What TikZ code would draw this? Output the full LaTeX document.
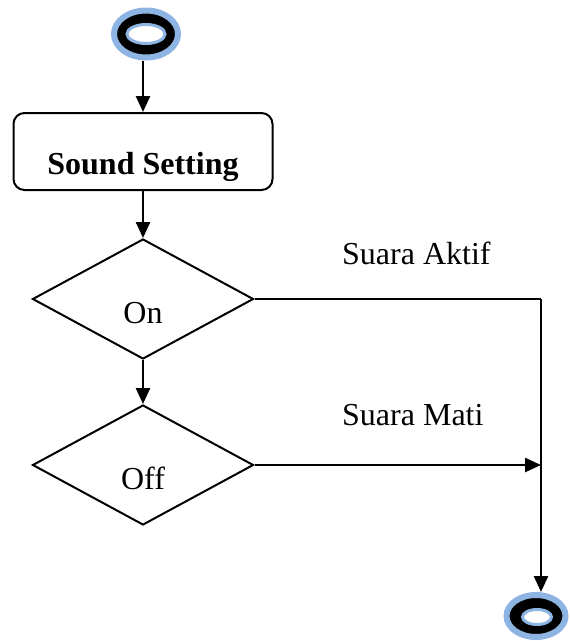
\documentclass[tikz,border=0pt]{standalone}
\usepackage{fontspec}
\setmainfont{Liberation Serif}
\usetikzlibrary{shapes.geometric,arrows.meta}
\definecolor{ringblue}{RGB}{141,180,226}
\begin{document}
\begin{tikzpicture}[x=1pt,y=-1pt,
  flow/.style={line width=2.5pt, -{Triangle[length=16pt,width=14pt]}},
  plain/.style={line width=2.5pt},
  procbox/.style={draw, line width=2pt, rounded corners=11pt,
    minimum width=259pt, minimum height=77pt, inner sep=0pt,
    font=\fontsize{32}{36}\selectfont\bfseries, text height=45pt, text depth=0pt},
  decision/.style={draw, diamond, line width=2pt, inner sep=0pt,
    minimum width=221pt, minimum height=120pt,
    font=\fontsize{32}{36}\selectfont, text height=48pt, text depth=0pt},
  lbl/.style={font=\fontsize{32}{36}\selectfont, inner sep=0pt, anchor=base west},
  ringout/.style={ellipse, draw=ringblue, fill=black, line width=6pt, inner sep=0pt},
  ringin/.style={ellipse, draw=ringblue, fill=white, line width=3pt, inner sep=0pt}
]
\useasboundingbox (0,0) rectangle (570,641);

% start point
\node[ringout, minimum width=64pt, minimum height=47pt] (start) at (146,34) {};
\node[ringin, minimum width=38pt, minimum height=19pt] (startin) at (start) {};

% process and decisions
\node[procbox] (box) at (143,151.5) {Sound Setting};
\node[decision] (on) at (143,299) {On};
\node[decision] (off) at (143,465) {Off};

% end point
\node[ringout, minimum width=59pt, minimum height=42pt] (end) at (536,616) {};
\node[ringin, minimum width=29pt, minimum height=15pt] (endin) at (537,617) {};

% corner of the right-hand branch
\coordinate (corner) at (541,299);

% connectors
\draw[flow] (box.north |- start.south) -- (box.north);
\draw[flow] (box.south) -- (on.north);
\draw[flow] (on.south) -- (off.north);
\draw[plain] (on.east) -- (corner);
\draw[flow] (corner) -- (corner |- end.north);
\draw[flow] (off.east) -- (off.east -| corner);

% branch labels
\node[lbl] (lblon) at (342,264) {Suara Aktif};
\node[lbl] (lbloff) at (342,425) {Suara Mati};
\end{tikzpicture}
\end{document}
